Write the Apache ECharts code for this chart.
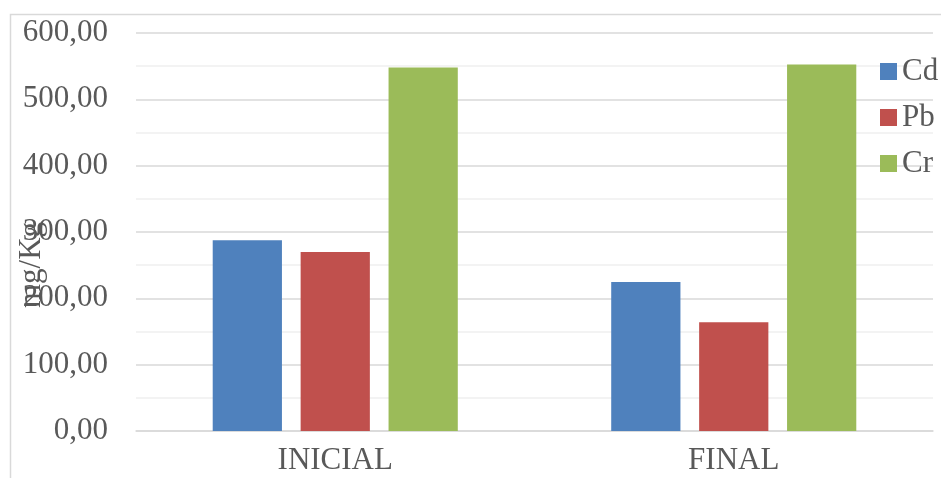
<!DOCTYPE html>
<html>
<head>
<meta charset="utf-8">
<script src="https://cdn.jsdelivr.net/npm/echarts@6/dist/echarts.min.js"></script>
<style>
html,body{margin:0;padding:0;background:#fff;}
#c{width:941px;height:478px;}
</style>
</head>
<body>
<div id="c"></div>
<script>
const categories = ['INICIAL', 'FINAL'];
const seriesNames = ['Cd', 'Pb', 'Cr'];
const cdValues = [287.5, 224.5];
const pbValues = [270, 164];
const crValues = [548, 552.5];
const yName = 'mg/Kg';

const font = 'Liberation Serif';
const txt = '#595959';
const colors = ['#4f81bd', '#c0504d', '#9bbb59'];
const values = [cdValues, pbValues, crValues];

const chart = echarts.init(document.getElementById('c'));
chart.setOption({
  animation: false,
  backgroundColor: '#fff',
  color: colors,
  textStyle: { fontFamily: font },
  graphic: [{
    type: 'rect', left: 8, top: 12, silent: true,
    shape: { width: 945, height: 480 },
    style: { fill: 'none', stroke: '#d9d9d9', lineWidth: 1.5 }
  }, {
    type: 'text', x: 32, y: 265, rotation: Math.PI / 2, silent: true, z: 100,
    style: { text: yName, font: '31px "Liberation Serif"', fill: txt,
      align: 'center', verticalAlign: 'middle' }
  }],
  grid: { left: 136, right: 8, top: 33, bottom: 47, containLabel: false, outerBoundsMode: 'none' },
  legend: {
    orient: 'vertical', left: 880, top: 56, padding: 0,
    itemWidth: 17, itemHeight: 17, itemGap: 15,
    icon: 'rect',
    textStyle: { fontFamily: font, fontSize: 31, color: txt },
    data: seriesNames
  },
  xAxis: {
    type: 'category', data: categories,
    axisLine: { show: true, lineStyle: { color: '#d9d9d9', width: 1.5 } },
    axisTick: { show: false },
    axisLabel: { fontFamily: font, fontSize: 31, color: txt, margin: 14 }
  },
  yAxis: {
    type: 'value', min: 0, max: 600, interval: 100,
    axisLine: { show: false }, axisTick: { show: false },
    axisLabel: { fontFamily: font, fontSize: 31, color: txt, margin: 28,
      formatter: v => v.toFixed(2).replace('.', ',') },
    splitLine: { lineStyle: { color: '#d9d9d9', width: 1.5 } },
    minorTick: { show: false, splitNumber: 2 },
    minorSplitLine: { show: true, lineStyle: { color: '#f0f0f0', width: 1.5 } }
  },
  series: seriesNames.map((n, i) => ({
    name: n, type: 'bar', data: values[i],
    barGap: '27%', barCategoryGap: '38.5%'
  }))
});
</script>
</body>
</html>
